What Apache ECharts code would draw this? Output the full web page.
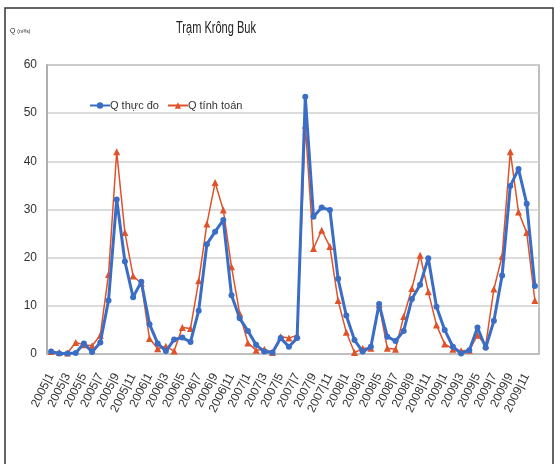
<!DOCTYPE html>
<html>
<head>
<meta charset="utf-8">
<style>html,body{margin:0;padding:0;background:#fff;}#c{width:555px;height:464px;}</style>
<script src="https://cdn.jsdelivr.net/npm/echarts@6/dist/echarts.min.js"></script>
</head>
<body>
<div id="c"></div>
<script>
var years = [2005, 2006, 2007, 2008, 2009];
var categories = [];
years.forEach(function (y) { for (var m = 1; m <= 12; m++) categories.push(y + '|' + m); });

var qThucDo = [
  0.5, 0.1, 0.1, 0.2, 2.2, 0.4, 2.4, 11.1, 32.1, 19.2, 11.8, 15.0,
  6.2, 2.2, 0.6, 3.0, 3.4, 2.5, 9.0, 22.8, 25.4, 27.8, 12.2, 7.4,
  4.8, 1.9, 0.5, 0.3, 3.3, 1.5, 3.3, 53.4, 28.5, 30.4, 29.9, 15.6,
  8.0, 2.9, 0.5, 1.5, 10.4, 3.6, 2.7, 4.8, 11.4, 14.4, 19.9, 9.8,
  5.0, 1.5, 0.1, 0.8, 5.5, 1.3, 6.9, 16.3, 34.9, 38.4, 31.2, 14.1
];
var qTinhToan = [
  0.5, 0.3, 0.2, 2.4, 1.9, 1.7, 3.9, 16.5, 42.0, 25.2, 16.2, 14.7,
  3.2, 1.1, 1.6, 0.6, 5.5, 5.3, 15.2, 27.0, 35.6, 29.9, 18.1, 8.4,
  2.3, 0.8, 1.0, 0.3, 3.6, 3.3, 3.9, 47.5, 21.9, 25.7, 22.3, 11.1,
  4.5, 0.3, 1.2, 1.2, 10.2, 1.2, 1.0, 7.8, 13.6, 20.5, 12.9, 6.0,
  2.1, 1.0, 0.7, 0.8, 3.9, 1.8, 13.5, 20.3, 42.0, 29.5, 25.2, 11.1
];
var yTicks = [0, 10, 20, 30, 40, 50, 60];

var chart = echarts.init(document.getElementById('c'), null, { renderer: 'canvas' });
var font = '"Liberation Sans Narrow", "Liberation Sans", Arial, sans-serif';
chart.setOption({
  animation: false,
  backgroundColor: '#fff',
  graphic: [
    { type: 'rect', shape: { x: 5, y: 8, width: 548, height: 470 }, style: { fill: 'none', stroke: '#333', lineWidth: 1.5 }, silent: true },
    { type: 'text', x: 176, y: 21, scaleX: 0.69, style: {
        text: 'Trạm Krông Buk', fontFamily: font, fontSize: 16, fill: '#222' } },
    { type: 'text', x: 10, y: 27, scaleX: 0.85, style: {
        text: '{a|Q }{b|(m³/s)}', rich: {
          a: { fontFamily: font, fontSize: 8, fill: '#222' },
          b: { fontFamily: font, fontSize: 6, fill: '#222' }
        } } }
  ],
  legend: {
    left: 84, top: 95, itemGap: 8, itemWidth: 20, itemHeight: 8,
    textStyle: { fontFamily: font, fontSize: 11, color: '#333', padding: [0, 0, 0, -5] },
    data: ['Q thực đo', 'Q tính toán']
  },
  grid: { left: 47, right: 16, top: 65, bottom: 110, show: true, borderColor: '#aaa', borderWidth: 1.5 },
  xAxis: {
    type: 'category', data: categories, boundaryGap: true,
    axisLine: { lineStyle: { color: '#bbb', width: 1.5 } },
    axisTick: { show: false },
    axisLabel: { interval: 1, rotate: 63, margin: 20, fontFamily: font, fontSize: 12, color: '#333' }
  },
  yAxis: {
    type: 'value', min: yTicks[0], max: yTicks[yTicks.length - 1], interval: 10,
    axisLine: { show: true, lineStyle: { color: '#aaa', width: 1.5 } },
    axisTick: { show: false },
    axisLabel: { fontFamily: font, fontSize: 12, color: '#333', margin: 10 },
    splitLine: { lineStyle: { color: '#d0d0d0', width: 1.5 } }
  },
  series: [
    {
      name: 'Q thực đo', type: 'line', data: qThucDo, z: 3,
      symbol: 'circle', symbolSize: 6, showAllSymbol: true,
      lineStyle: { color: '#3a6ec6', width: 3 },
      itemStyle: { color: '#3a6ec6' }
    },
    {
      name: 'Q tính toán', type: 'line', data: qTinhToan, z: 2,
      symbol: 'triangle', symbolSize: 7, showAllSymbol: true,
      lineStyle: { color: '#e0522a', width: 1.5 },
      itemStyle: { color: '#e0522a' }
    }
  ]
});
</script>
</body>
</html>
